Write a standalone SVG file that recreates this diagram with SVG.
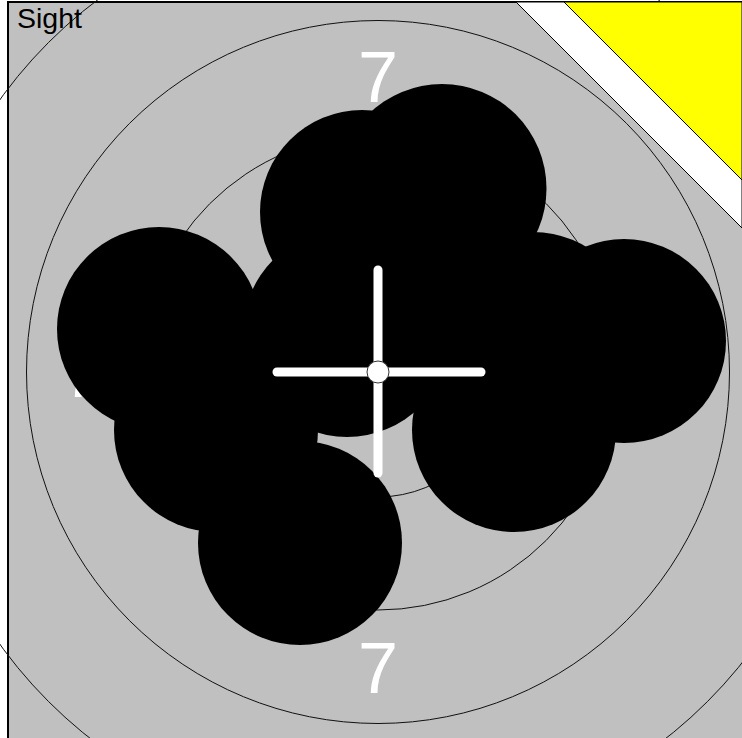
<svg xmlns="http://www.w3.org/2000/svg" width="742" height="738" viewBox="0 0 742 738">
<style>
.ring{fill:none;stroke:#111;stroke-width:1}
.num{font-family:"Liberation Sans",Arial,sans-serif;font-size:72px;fill:#fff;text-anchor:middle}
.hole{fill:#000}
.cross{stroke:#fff;stroke-width:9;stroke-linecap:round}
</style>
<rect x="0" y="0" width="742" height="738" fill="#fff"/>
<g id="target">
<rect x="8" y="2" width="740" height="740" fill="#c0c0c0" stroke="#000" stroke-width="2"/>
<circle class="ring" cx="378" cy="372" r="125"/>
<circle class="ring" cx="378" cy="372" r="238"/>
<circle class="ring" cx="378" cy="372" r="351.5"/>
<circle class="ring" cx="378" cy="372" r="466"/>
<polygon points="516,2 742,2 742,228" fill="#fff" stroke="#000" stroke-width="1"/>
<polygon points="564,2 742,2 742,180" fill="#ff0" stroke="#000" stroke-width="1"/>
<text class="num" x="378" y="102">7</text>
<text class="num" x="378" y="693">7</text>
<text class="num" x="82" y="397">7</text>
</g>
<g id="holes">
<circle class="hole" cx="362" cy="212" r="102"/>
<circle class="hole" cx="442" cy="188.5" r="104.5"/>
<circle class="hole" cx="159" cy="329" r="102"/>
<circle class="hole" cx="347" cy="333" r="104"/>
<circle class="hole" cx="216" cy="430" r="102"/>
<circle class="hole" cx="300" cy="543" r="102"/>
<circle class="hole" cx="624" cy="341" r="102"/>
<circle class="hole" cx="514" cy="430" r="102"/>
<circle class="hole" cx="533" cy="335" r="103"/>
</g>
<g id="crosshair">
<line class="cross" x1="378" y1="270" x2="378" y2="473"/>
<line class="cross" x1="277" y1="372" x2="481" y2="372"/>
<circle cx="378" cy="372" r="11" fill="#fff" stroke="#333" stroke-width="1"/>
</g>
<text id="label" x="17" y="28" font-family="Liberation Sans, Arial, sans-serif" font-size="28.5" fill="#000">Sight</text>
</svg>
